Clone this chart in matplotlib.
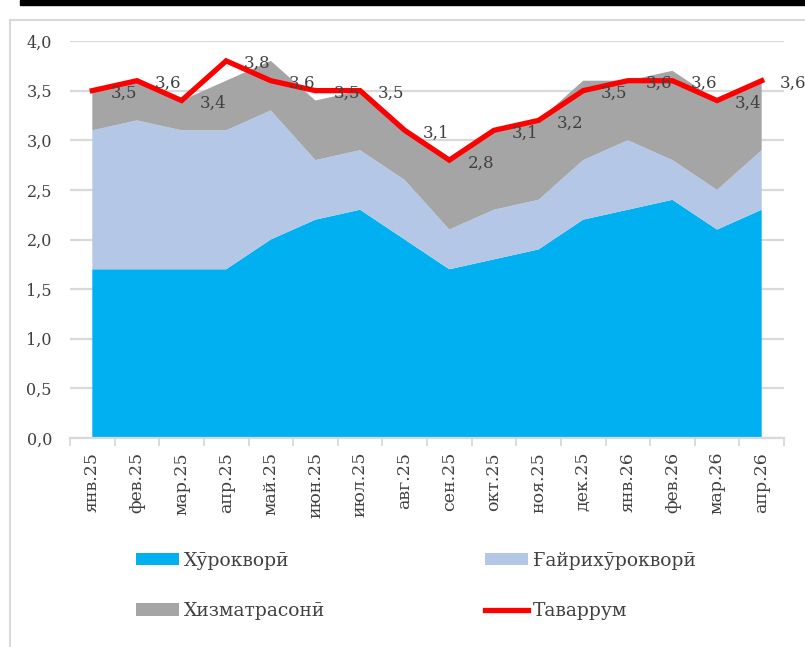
import matplotlib
matplotlib.use("Agg")
import matplotlib.pyplot as plt
from matplotlib.lines import Line2D
from matplotlib.patches import Rectangle, Patch

plt.rcParams['font.family'] = ['DejaVu Serif', 'Liberation Serif']

# Данные
months = ['янв.25', 'фев.25', 'мар.25', 'апр.25', 'май.25', 'июн.25', 'июл.25', 'авг.25',
          'сен.25', 'окт.25', 'ноя.25', 'дек.25', 'янв.26', 'фев.26', 'мар.26', 'апр.26']
food = [1.7, 1.7, 1.7, 1.7, 2.0, 2.2, 2.3, 2.0, 1.7, 1.8, 1.9, 2.2, 2.3, 2.4, 2.1, 2.3]
nonfood = [1.4, 1.5, 1.4, 1.4, 1.3, 0.6, 0.6, 0.6, 0.4, 0.5, 0.5, 0.6, 0.7, 0.4, 0.4, 0.6]
services = [0.4, 0.4, 0.3, 0.5, 0.5, 0.6, 0.6, 0.5, 0.7, 0.8, 0.8, 0.8, 0.6, 0.9, 0.9, 0.7]
inflation = [3.5, 3.6, 3.4, 3.8, 3.6, 3.5, 3.5, 3.1, 2.8, 3.1, 3.2, 3.5, 3.6, 3.6, 3.4, 3.6]

names = ['Хӯрокворӣ', 'Ғайрихӯрокворӣ', 'Хизматрасонӣ', 'Таваррум']
colors = ['#00b0f0', '#b4c7e7', '#a5a5a5', '#ff0000']
text_color = '#404040'
grid_color = '#d9d9d9'

W, H = 805, 647
fig = plt.figure(figsize=(W / 100, H / 100), dpi=100)
ax = fig.add_axes([70 / W, 1 - 438 / H, (784 - 70) / W, (438 - 41) / H])

x = list(range(len(months)))
ax.stackplot(x, food, nonfood, services, colors=colors[:3], linewidth=0, zorder=2)
ax.plot(x, inflation, color=colors[3], linewidth=3.8, zorder=3, solid_joinstyle='miter')

# подписи значений
for xi, v in zip(x, inflation):
    ax.annotate(f'{v:.1f}'.replace('.', ','), (xi, v), xytext=(13, -2),
                textcoords='offset points', ha='left', va='center',
                fontsize=12, color=text_color, zorder=4)

ax.set_xlim(-0.5, len(months) - 0.5)
ax.set_ylim(0, 4)
ax.set_yticks([i * 0.5 for i in range(9)])
ax.set_yticklabels([f'{i * 0.5:.1f}'.replace('.', ',') for i in range(9)])
ax.yaxis.grid(True, color=grid_color, linewidth=1.6, zorder=0)
ax.set_axisbelow(True)

ax.set_xticks(x)
ax.set_xticklabels(months, rotation=90)
ax.set_xticks([i - 0.5 for i in range(len(months) + 1)], minor=True)
ax.tick_params(axis='x', which='major', length=0, pad=10, labelsize=12.5, labelcolor=text_color)
ax.tick_params(axis='x', which='minor', length=6, width=1.3, color=grid_color, direction='out')
ax.tick_params(axis='y', length=0, pad=13, labelsize=11.5, labelcolor=text_color)

for s in ['top', 'right', 'left']:
    ax.spines[s].set_visible(False)
ax.spines['bottom'].set_color(grid_color)
ax.spines['bottom'].set_linewidth(1.6)

# Легенда
h_food = Patch(facecolor=colors[0], label=names[0])
h_nonfood = Patch(facecolor=colors[1], label=names[1])
h_serv = Patch(facecolor=colors[2], label=names[2])
h_inf = Line2D([], [], color=colors[3], linewidth=3.8, label=names[3])
leg_kw = dict(frameon=False, fontsize=13.5, labelcolor=text_color, handlelength=2.3,
              handleheight=0.65, handletextpad=0.3, labelspacing=1.75, borderaxespad=0,
              loc='upper left')
fig.legend(handles=[h_food, h_serv], bbox_to_anchor=(128 / W, 1 - 544 / H), **leg_kw)
fig.legend(handles=[h_nonfood, h_inf], bbox_to_anchor=(477 / W, 1 - 544 / H), **leg_kw)

# рамка
fig.add_artist(Line2D([10 / W, 10 / W], [0, 1 - 20 / H], color=grid_color, linewidth=1.5))
fig.add_artist(Line2D([10 / W, 1], [1 - 20 / H, 1 - 20 / H], color=grid_color, linewidth=1.5))
fig.add_artist(Rectangle((20 / W, 1 - 5 / H), 1, 5 / H, color='black', transform=fig.transFigure))

fig.savefig('out.png', dpi=100)
